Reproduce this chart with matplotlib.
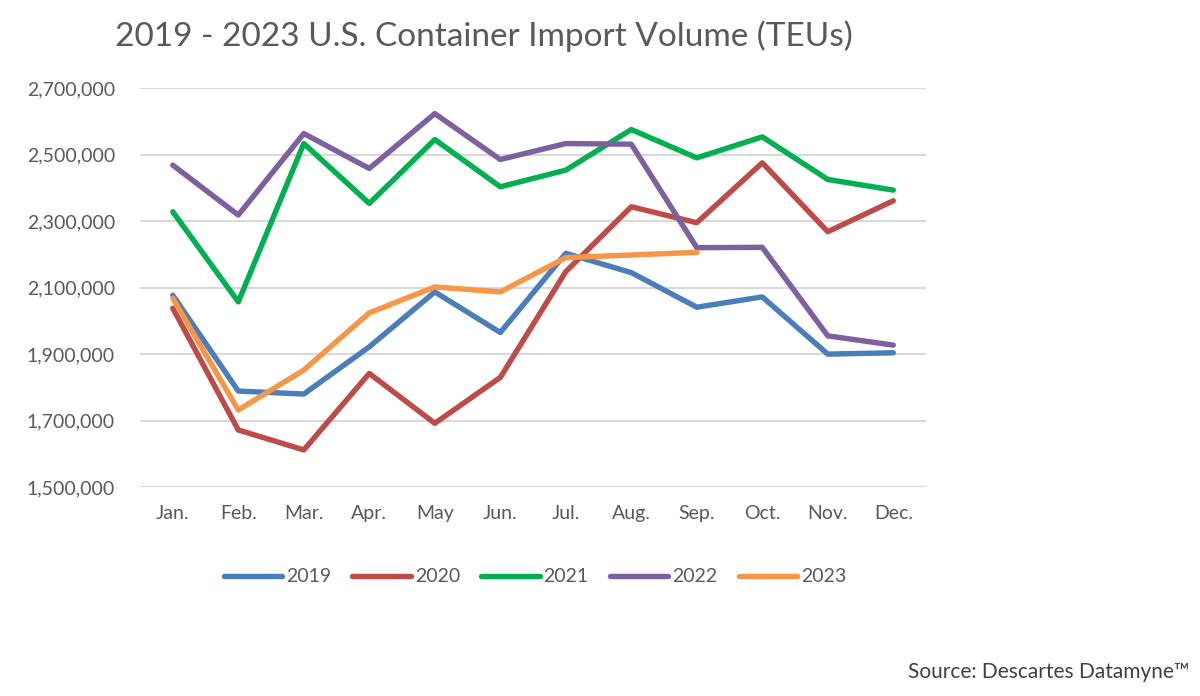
import matplotlib.pyplot as plt
from matplotlib.ticker import FuncFormatter

months = ["Jan.", "Feb.", "Mar.", "Apr.", "May", "Jun.",
          "Jul.", "Aug.", "Sep.", "Oct.", "Nov.", "Dec."]

teu_2019 = [2077000, 1789000, 1780000, 1922000, 2087000, 1965000,
            2203000, 2145000, 2041000, 2072000, 1900000, 1904000]
teu_2020 = [2038000, 1672000, 1612000, 1842000, 1692000, 1830000,
            2148000, 2343000, 2295000, 2475000, 2268000, 2361000]
teu_2021 = [2328000, 2057000, 2533000, 2353000, 2545000, 2403000,
            2453000, 2575000, 2490000, 2553000, 2425000, 2393000]
teu_2022 = [2468000, 2318000, 2563000, 2458000, 2623000, 2485000,
            2533000, 2531000, 2220000, 2221000, 1955000, 1927000]
teu_2023 = [2068000, 1732000, 1852000, 2024000, 2102000, 2087000,
            2190000, 2198000, 2206000]

series = [("2019", teu_2019, "#4A7EBB"),
          ("2020", teu_2020, "#BE4B48"),
          ("2021", teu_2021, "#00B050"),
          ("2022", teu_2022, "#7D60A0"),
          ("2023", teu_2023, "#F79646")]

plt.rcParams['font.family'] = ['Lato', 'DejaVu Sans']
text_color = "#595959"

fig = plt.figure(figsize=(12, 6.96), dpi=100)
ax = fig.add_axes([0.1167, 0.300, 0.655, 0.5736])

for name, vals, color in series:
    ax.plot(range(len(vals)), vals, color=color, linewidth=3.9,
            solid_capstyle='round', solid_joinstyle='round', label=name)

ax.set_xlim(-0.5, 11.5)
ax.set_ylim(1500000, 2700000)
ax.set_yticks(range(1500000, 2700001, 200000))
ax.yaxis.set_major_formatter(FuncFormatter(lambda v, p: f"{int(v):,}"))
ax.set_xticks(range(12))
ax.set_xticklabels(months)
ax.tick_params(axis='both', length=0, labelsize=14, colors=text_color)
ax.tick_params(axis='x', pad=13)
ax.tick_params(axis='y', pad=18)
ax.grid(axis='y', color="#D9D9D9", linewidth=1.5)
ax.set_axisbelow(True)
for s in ax.spines.values():
    s.set_visible(False)

fig.text(115 / 1200, 1 - 36 / 696, "2019 - 2023 U.S. Container Import Volume (TEUs)",
         fontsize=24, color=text_color, ha='left', va='center')

fig.legend(loc='center', bbox_to_anchor=(535 / 1200, 1 - 577 / 696), ncol=5,
           frameon=False, fontsize=14, handlelength=3.0, handletextpad=0.2,
           columnspacing=1.1, labelcolor=text_color)

fig.text(1190 / 1200, 1 - 672 / 696, "Source: Descartes Datamyne\u2122",
         fontsize=15, color="#404040", ha='right', va='center')

fig.savefig("out.png", dpi=100)
